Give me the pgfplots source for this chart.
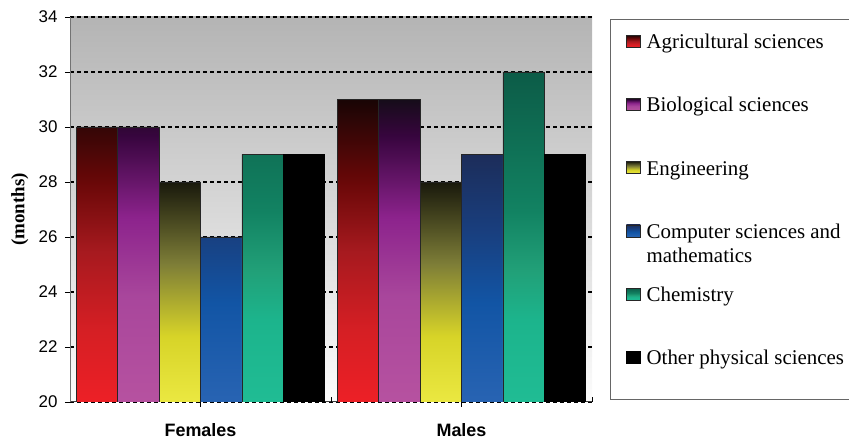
\documentclass[border=0pt]{standalone}
\usepackage{fontspec}
\setmainfont{Liberation Serif}
\setsansfont{Liberation Sans}
\usepackage{pgfplots}
\pgfplotsset{compat=1.18}
\pgfdeclareverticalshading{agri}{100bp}{rgb(0bp)=(.93,.125,.15); rgb(25bp)=(.93,.125,.15); rgb(37.5bp)=(.83,.12,.14); rgb(50bp)=(.65,.1,.12); rgb(61.5bp)=(.41,.03,.03); rgb(75bp)=(.098,.02,.02); rgb(100bp)=(.098,.02,.02)}
\pgfdeclareverticalshading{bio}{100bp}{rgb(0bp)=(.714,.32,.627); rgb(25bp)=(.714,.32,.627); rgb(42.5bp)=(.66,.275,.61); rgb(55.5bp)=(.55,.137,.55); rgb(69bp)=(.216,.02,.243); rgb(75bp)=(.086,.047,.098); rgb(100bp)=(.086,.047,.098)}
\pgfdeclareverticalshading{eng}{100bp}{rgb(0bp)=(.92,.91,.255); rgb(25bp)=(.92,.91,.255); rgb(40bp)=(.843,.83,.157); rgb(56.5bp)=(.49,.49,.216); rgb(75bp)=(.098,.098,.047); rgb(100bp)=(.098,.098,.047)}
\pgfdeclareverticalshading{comp}{100bp}{rgb(0bp)=(.157,.39,.7); rgb(25bp)=(.157,.39,.7); rgb(45bp)=(.07,.333,.647); rgb(60bp)=(.098,.243,.49); rgb(75bp)=(.11,.176,.353); rgb(100bp)=(.11,.176,.353)}
\pgfdeclareverticalshading{chem}{100bp}{rgb(0bp)=(.125,.737,.58); rgb(25bp)=(.125,.737,.58); rgb(37.5bp)=(.11,.706,.55); rgb(45bp)=(.13,.627,.47); rgb(54bp)=(.07,.51,.384); rgb(75bp)=(.047,.36,.28); rgb(100bp)=(.047,.36,.28)}
\definecolor{bgtop}{RGB}{180,180,180}
\definecolor{bgbot}{RGB}{252,252,252}
\pgfplotsset{mylegimg/.style={legend image code/.code={\draw[##1] (0bp,-6bp) rectangle (14bp,6bp);}}}
\begin{document}
\begin{tikzpicture}
\useasboundingbox (0,0) rectangle (849bp,441bp);
\begin{axis}[
  at={(70bp,39bp)}, anchor=south west,
  scale only axis, width=522bp, height=385bp,
  xmin=-0.5, xmax=1.5, ymin=20, ymax=34,
  ybar=0pt, bar width=0.1586,
  xtick={0,1}, xticklabels={Females,Males},
  ytick={20,22,...,34},
  axis x line*=bottom, axis y line*=left,
  x axis line style={black!75, line width=1bp},
  y axis line style={black!55, line width=1bp},
  tick align=outside, major tick length=5bp,
  tick style={black, line width=0.8bp},
  extra x ticks={0.5,1.5}, extra x tick labels={},
  extra x tick style={tick align=inside, major tick length=5bp},
  ymajorgrids,
  grid style={black, line width=1.2bp, dash pattern=on 3.5bp off 3.5bp},
  axis background/.style={shade, top color=bgtop, bottom color=bgbot},
  /pgf/number format/assume math mode=true,
  yticklabel style={font=\sffamily\fontsize{17}{20}\selectfont, xshift=-4bp},
  xticklabel style={font=\sffamily\bfseries\fontsize{18}{21}\selectfont, yshift=-13bp},
  ylabel={(months)},
  ylabel style={font=\bfseries\fontsize{19}{22}\selectfont, at={(axis description cs:-0.096,0.5)}, anchor=center},
  legend cell align=left,
  legend style={at={(axis description cs:1.0651,0.9610)}, anchor=north west,
    draw=none, fill=none, inner sep=0pt, outer sep=0pt,
    row sep=45bp, column sep=6bp,
    font=\fontsize{21}{24}\selectfont,
    nodes={inner sep=0pt}},
]
\addplot[draw=black!85, line width=0.6bp, shade, shading=agri, mylegimg] coordinates {(0,30) (1,31)};
\addlegendentry{\strut Agricultural sciences}
\addplot[draw=black!85, line width=0.6bp, shade, shading=bio, mylegimg] coordinates {(0,30) (1,31)};
\addlegendentry{\strut Biological sciences}
\addplot[draw=black!85, line width=0.6bp, shade, shading=eng, mylegimg] coordinates {(0,28) (1,28)};
\addlegendentry{\strut Engineering}
\addplot[draw=black!85, line width=0.6bp, shade, shading=comp, mylegimg] coordinates {(0,26) (1,29)};
\addlegendentry{\strut\smash{\begin{tabular}[t]{@{}l@{}}Computer sciences and\\mathematics\end{tabular}}}
\addplot[draw=black!85, line width=0.6bp, shade, shading=chem, mylegimg] coordinates {(0,29) (1,32)};
\addlegendentry{\strut Chemistry}
\addplot[draw=black, line width=0.6bp, fill=black, mylegimg] coordinates {(0,29) (1,29)};
\addlegendentry{\strut Other physical sciences}
\end{axis}
\draw[black!60, line width=1bp] (610bp,41bp) rectangle (880bp,421bp);
\end{tikzpicture}
\end{document}
